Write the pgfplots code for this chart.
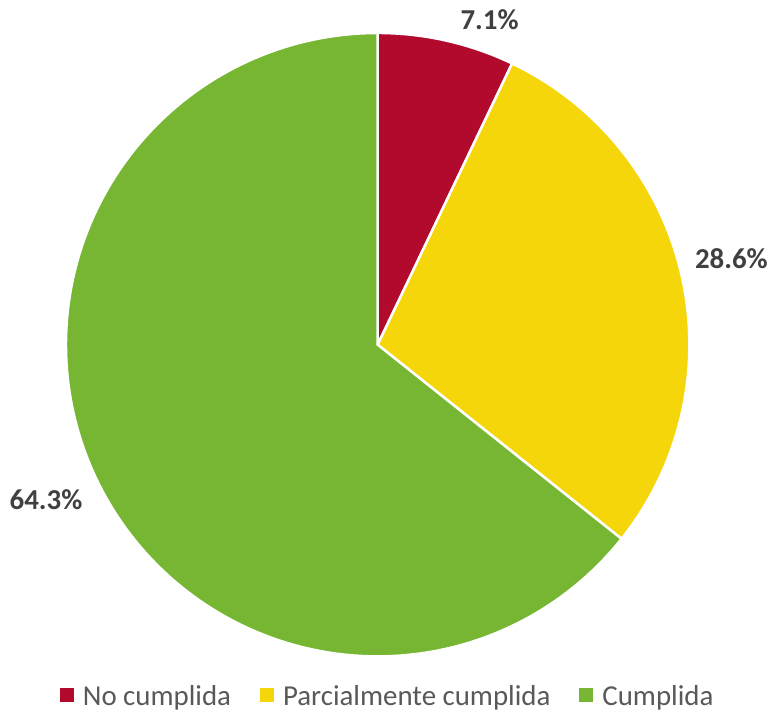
\documentclass[border=0pt]{standalone}
\usepackage{pgfplots}
\pgfplotsset{compat=1.18}
\usepackage{fontspec}
\setmainfont{Carlito}
\definecolor{cred}{RGB}{178,10,44}
\definecolor{cyellow}{RGB}{245,214,10}
\definecolor{cgreen}{RGB}{118,182,50}
\definecolor{labgray}{RGB}{64,64,64}
\definecolor{leggray}{RGB}{89,89,89}
\begin{document}
\begin{tikzpicture}
\pgfmathsetmacro{\va}{7.1}
\pgfmathsetmacro{\vb}{28.6}
\pgfmathsetmacro{\vc}{64.3}
\pgfmathsetmacro{\aa}{90}
\pgfmathsetmacro{\ab}{90-3.6*\va}
\pgfmathsetmacro{\ac}{\ab-3.6*\vb}
\pgfmathsetmacro{\ad}{\ac-3.6*\vc}
\begin{axis}[scale only axis, width=771bp, height=719bp,
  xmin=0, xmax=771, ymin=0, ymax=719, hide axis, clip=false,
  legend columns=3,
  legend style={at={(axis cs:388,22)}, anchor=center, draw=none, fill=none,
    font=\fontsize{29}{32}\selectfont, text=leggray, inner sep=0pt,
    /tikz/every odd column/.append style={column sep=7bp},
    /tikz/every even column/.append style={column sep=27bp}},
  legend image code/.code={\fill[#1,draw=none] (0bp,-6bp) rectangle (14bp,8bp);}]
\path (axis cs:0,0) rectangle (axis cs:771,719);
\addplot[fill=cred, draw=white, line width=2.5bp, domain=\ab:\aa, samples=40]
  ({378+312*cos(x)},{374+312*sin(x)}) -- (axis cs:378,374) -- cycle;
\addplot[fill=cyellow, draw=white, line width=2.5bp, domain=\ac:\ab, samples=80]
  ({378+312*cos(x)},{374+312*sin(x)}) -- (axis cs:378,374) -- cycle;
\addplot[fill=cgreen, draw=white, line width=2.5bp, domain=\ad:\ac, samples=150]
  ({378+312*cos(x)},{374+312*sin(x)}) -- (axis cs:378,374) -- cycle;
\legend{No cumplida, Parcialmente cumplida, Cumplida}
\node[font=\bfseries\fontsize{29}{32}\selectfont, text=labgray] at (axis cs:490,699) {7.1\%};
\node[font=\bfseries\fontsize{29}{32}\selectfont, text=labgray] at (axis cs:732,460) {28.6\%};
\node[font=\bfseries\fontsize{29}{32}\selectfont, text=labgray] at (axis cs:46,219) {64.3\%};
\end{axis}
\end{tikzpicture}
\end{document}
